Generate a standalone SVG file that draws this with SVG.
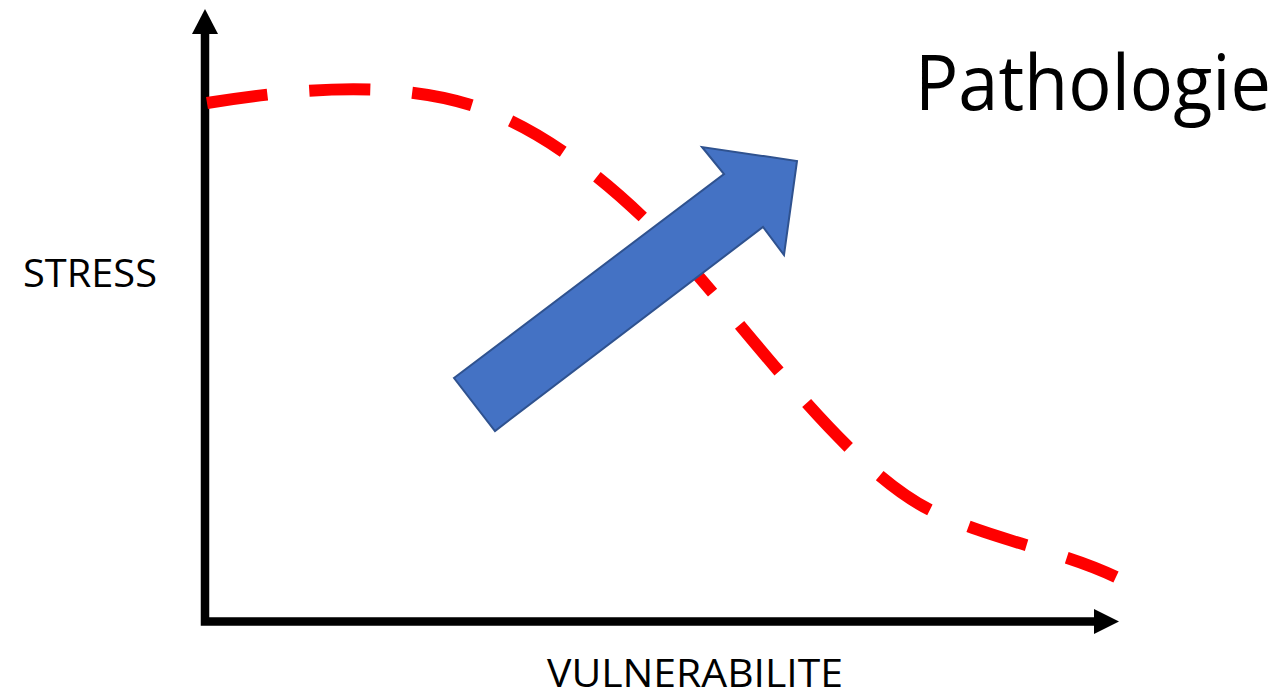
<svg xmlns="http://www.w3.org/2000/svg" width="1281" height="692" viewBox="0 0 1281 692">
<style>
.lbl{font-family:"Open Sans","Liberation Sans",sans-serif;fill:#000}
.axis{stroke:#000;stroke-width:8.5;fill:none}
</style>
<rect width="1281" height="692" fill="#fff"/>
<g id="axes">
<path class="axis" d="M205,34 V621.5 H1095"/>
<polygon points="205,9 218,34 192,34" fill="#000"/>
<polygon points="1119,621.5 1094,609 1094,634" fill="#000"/>
</g>
<g id="curve">
<path d="M207,103 C300,88 400,80 480,108 C550,133 620,190 680,255 C760,345 850,470 930,510 C990,540 1060,550 1116,577" fill="none" stroke="#ff0000" stroke-width="12" stroke-dasharray="61 42"/>
</g>
<g id="trend-arrow">
<polygon points="454,378 724,174 702,147 797,161 784,255 763,227 495,431" fill="#4472c4" stroke="#2f528f" stroke-width="2" stroke-linejoin="miter"/>
</g>
<g id="label-stress"><text class="lbl" x="23" y="287" font-size="38" textLength="134" lengthAdjust="spacingAndGlyphs">STRESS</text></g>
<g id="label-vuln"><text class="lbl" x="547" y="687" font-size="39" textLength="296" lengthAdjust="spacingAndGlyphs">VULNERABILITE</text></g>
<g id="label-patho"><text class="lbl" x="915" y="110" font-size="77" textLength="356" lengthAdjust="spacingAndGlyphs">Pathologie</text></g>
</svg>
